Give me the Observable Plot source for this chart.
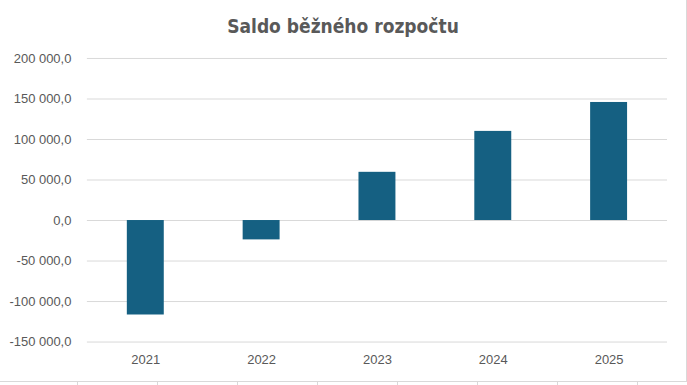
<!DOCTYPE html>
<html>
<head>
<meta charset="utf-8">
<script src="https://cdn.jsdelivr.net/npm/d3@7"></script>
<script src="https://cdn.jsdelivr.net/npm/@observablehq/plot@0.6"></script>
<style>
  html, body { margin: 0; padding: 0; background: #fff; }
  #wrap { position: relative; width: 686px; height: 381px; border-right: 1px solid #d9d9d9; border-bottom: 1px solid #d9d9d9; box-sizing: content-box; overflow: hidden; }
  #title { height: 45px; line-height: 52px; text-align: center; font-family: "Liberation Sans Narrow", "DejaVu Sans Condensed", "Liberation Sans", sans-serif; font-weight: bold; font-size: 19px; color: #595959; padding-left: 0px; }
  #ticks { width: 687px; height: 4px; background: repeating-linear-gradient(to right, transparent 0px, transparent 77px, #d9d9d9 77px, #d9d9d9 78px, transparent 78px, transparent 80px); background-position: 0px 0; }
  svg text { font-family: "Liberation Sans", Arial, sans-serif; }
</style>
</head>
<body>
<div id="wrap">
  <div id="title">Saldo běžného rozpočtu</div>
  <div id="chart"></div>
</div>
<div id="ticks"></div>
<script>
const years = ["2021", "2022", "2023", "2024", "2025"];
const values = [-116600, -23900, 59500, 110000, 145700];
const yTicks = [-150000, -100000, -50000, 0, 50000, 100000, 150000, 200000];

const data = years.map((y, i) => ({year: y, value: values[i]}));
const fmt = d3.formatLocale({decimal: ",", thousands: " ", grouping: [3], currency: ["", ""], minus: "-"}).format(",.1f");

const chart = Plot.plot({
  width: 687,
  height: 335,
  marginLeft: 87,
  marginRight: 19,
  marginTop: 13,
  marginBottom: 38,
  style: {fontSize: "13px", color: "#595959", background: "transparent"},
  x: {domain: years, paddingInner: 0.68, paddingOuter: 0.34, label: null, tickSize: 0, tickPadding: 13},
  y: {domain: [-150000, 200000], label: null},
  marks: [
    Plot.gridY(yTicks, {stroke: "#d9d9d9", strokeOpacity: 1, strokeWidth: 1}),
    Plot.barY(data, {x: "year", y: "value", fill: "#156082"}),
    Plot.axisY(yTicks, {tickFormat: fmt, tickSize: 0, tickPadding: 16, fill: "#595959", fontSize: 13}),
    Plot.axisX({tickSize: 0, tickPadding: 13, fill: "#595959", fontSize: 13})
  ]
});
document.getElementById("chart").appendChild(chart);
</script>
</body>
</html>
